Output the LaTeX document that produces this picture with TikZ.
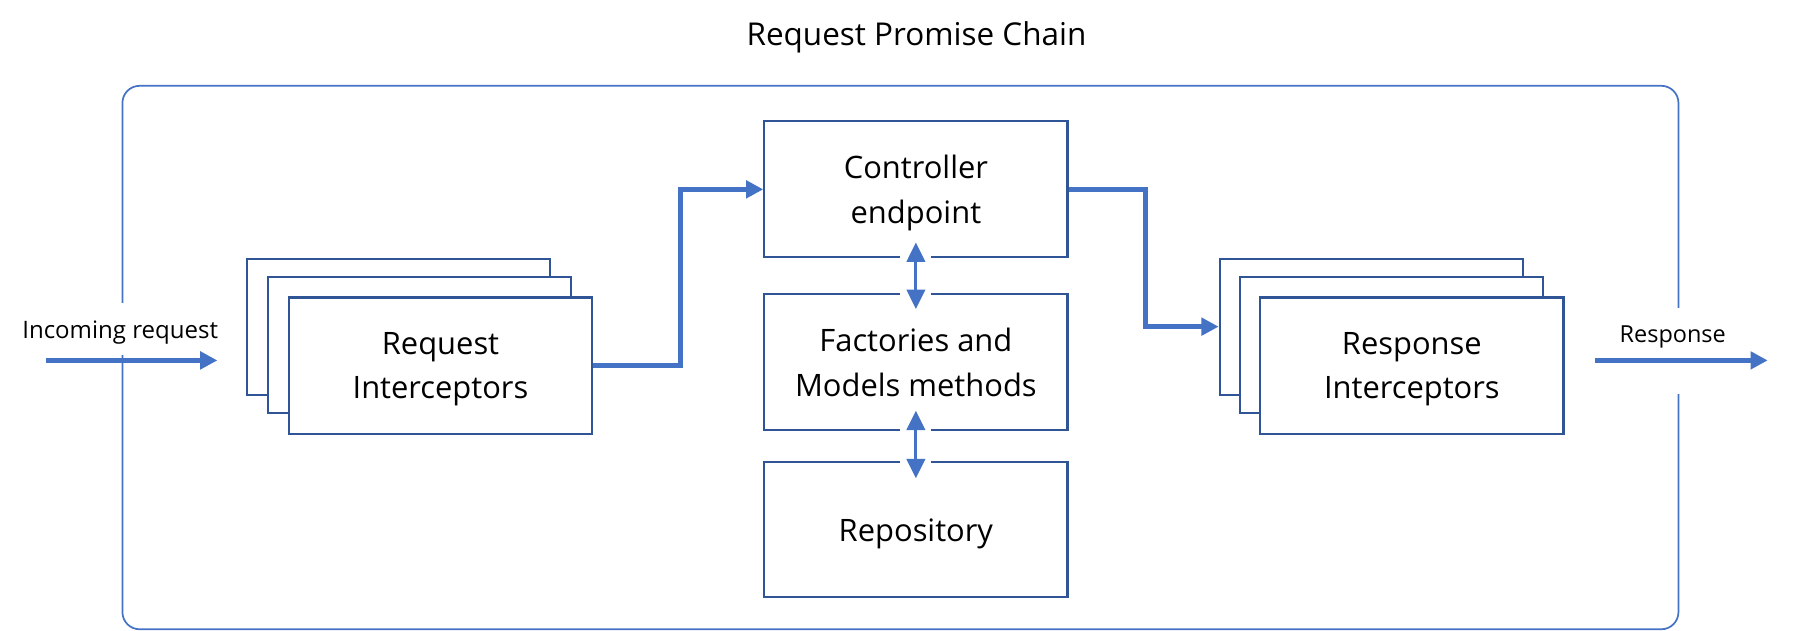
\documentclass[tikz,border=0pt]{standalone}
\usepackage{fontspec}
\setmainfont{Open Sans}
\usetikzlibrary{arrows.meta}
\definecolor{arrowblue}{HTML}{4472C4}
\definecolor{boxblue}{HTML}{2F5597}
\begin{document}
\begin{tikzpicture}[x=1pt,y=-1pt,
  box/.style={draw=boxblue, line width=1.8pt, fill=white, minimum width=265pt,
    minimum height=119pt, inner sep=0pt, align=center,
    font=\fontsize{27}{39}\selectfont, text depth=0pt},
  flow/.style={draw=arrowblue, line width=4.5pt, -{Triangle[length=15pt,width=15pt]}},
  dbl/.style={draw=arrowblue, line width=2.6pt,
    {Triangle[length=17pt,width=16pt]}-{Triangle[length=17pt,width=16pt]},
    preaction={draw=white, line width=27pt, -}},
  lab/.style={fill=white, inner sep=5pt, anchor=base}]
\useasboundingbox (0,0) rectangle (1568,551);
% title
\node[font=\fontsize{27.5}{33}\selectfont, anchor=base] (title) at (801,40) {Request Promise Chain};
% frame
\node[draw=arrowblue, line width=1.5pt, rounded corners=15pt, minimum width=1360pt,
  minimum height=475pt, inner sep=0pt] (frame) at (787,312.5) {};
% side labels
\node[lab, font=\fontsize{21}{25}\selectfont, text height=26pt, text depth=9pt] (inlab) at (105,296) {Incoming request};
\node[lab, font=\fontsize{20.5}{25}\selectfont, text height=25pt, text depth=40pt] (outlab) at (1462,299) {Response};
% request interceptors stack
\node[box] (reqB) at (348.5,285.5) {};
\node[box] (reqM) at (366.5,301.5) {};
\node[box] (reqF) at (385,319.5) {Request\\Interceptors};
% middle column
\node[box] (ctrl) at (800.5,165.5) {Controller\\endpoint};
\node[box] (fact) at (800.5,316.5) {Factories and\\Models methods};
\node[box, minimum height=118pt] (repo) at (800.5,463) {Repository};
% response interceptors stack
\node[box] (respB) at (1198.5,285.5) {};
\node[box] (respM) at (1216.5,301.5) {};
\node[box] (respF) at (1234,319.5) {Response\\Interceptors};
% connectors
\draw[flow] (reqF.east) -- ++(76,0) |- (ctrl.west);
\draw[flow] (ctrl.east) -- ++(67,0) |- (respB.west);
\draw[dbl, shorten <=-14pt, shorten >=-14pt] (ctrl.south) -- (fact.north);
\draw[dbl, shorten <=-18pt, shorten >=-15pt] (fact.south) -- (repo.north);
% in / out arrows
\coordinate (inA) at (40,315);
\coordinate (inB) at (190,315);
\coordinate (outA) at (1394,315);
\coordinate (outB) at (1545,315);
\draw[flow] (inA) -- (inB);
\draw[flow] (outA) -- (outB);
\end{tikzpicture}
\end{document}
